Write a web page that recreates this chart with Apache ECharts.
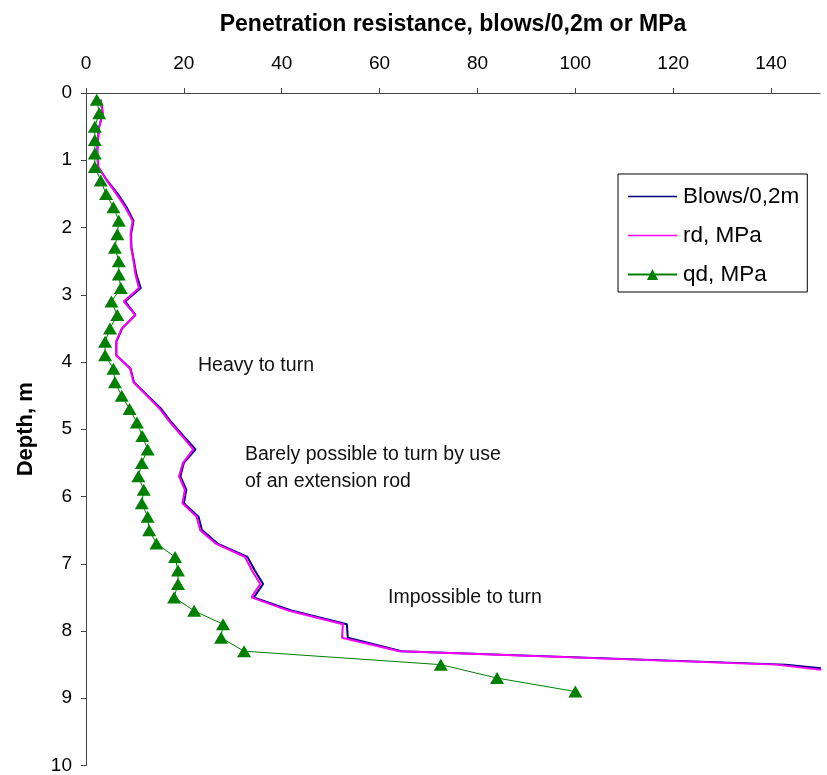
<!DOCTYPE html>
<html><head><meta charset="utf-8">
<script src="https://cdn.jsdelivr.net/npm/echarts@6/dist/echarts.min.js"></script>
<style>html,body{margin:0;padding:0;background:#fff}#c{width:827px;height:775px}</style>
</head><body><div id="c"></div>
<script>
var depths = [0.1,0.3,0.5,0.7,0.9,1.1,1.3,1.5,1.7,1.9,2.1,2.3,2.5,2.7,2.9,3.1,3.3,3.5,3.7,3.9,4.1,4.3,4.5,4.7,4.9,5.1,5.3,5.5,5.7,5.9,6.1,6.3,6.5,6.7,6.9,7.1,7.3,7.5,7.7,7.9,8.1,8.3,8.5,8.7,8.9];
var blows = [3.0,3.4,2.7,2.4,2.3,2.5,4.3,6.5,8.3,9.7,9.2,9.3,9.8,10.3,11.2,8.0,10.1,7.4,6.2,6.2,9.1,9.8,12.6,15.4,17.5,19.9,22.4,20.0,19.3,20.5,20.0,23.0,23.7,26.9,33.0,34.5,36.2,34.3,42.2,53.3,53.5,64.5,143,170];
var rd = [3.0,3.4,2.7,2.4,2.3,2.5,4.2,6.2,8.0,9.5,9.1,9.2,9.7,10.1,10.8,7.7,10.0,7.3,6.1,6.1,9.0,9.7,12.4,15.1,17.2,19.6,21.9,19.8,19.0,20.2,19.7,22.6,23.3,26.5,32.5,33.9,35.6,33.8,41.5,52.5,52.3,64.0,141,165];
var qd = [2.2,2.7,1.8,1.8,1.8,1.8,3.0,4.1,5.6,6.7,6.4,5.9,6.7,6.7,7.1,5.2,6.4,4.9,3.9,3.9,5.6,5.9,7.3,8.9,10.4,11.5,12.6,11.4,10.7,11.8,11.4,12.6,12.9,14.4,18.2,18.8,18.8,18.0,22.1,28.0,27.6,32.3,72.5,84,100];
var xTicks = [0,20,40,60,80,100,120,140];
var yTicks = [0,1,2,3,4,5,6,7,8,9,10];

function pairs(vals){ return vals.map(function(v,i){ return [v, depths[i]]; }); }

var font = '"Liberation Sans", Arial, sans-serif';
var lineIcon = 'path://M0,0L0.01,0L0,0.01Z M0,6.3L49,6.3L49,7.7L0,7.7Z M48.99,14L49,14L49,13.99Z';
var chart = echarts.init(document.getElementById('c'));
chart.setOption({
  animation: false,
  backgroundColor: '#fff',
  grid: {left: 86, top: 93, width: 734, height: 676, containLabel: false},
  xAxis: {
    type: 'value', position: 'top', min: 0, max: 150, interval: 20,
    name: 'Penetration resistance, blows/0,2m or MPa', nameLocation: 'middle', nameGap: 57,
    nameTextStyle: {fontFamily: font, fontWeight: 'bold', fontSize: 23, color: '#000'},
    axisLine: {show: true, lineStyle: {color: '#444', width: 1}},
    axisTick: {show: true, inside: false, length: 5, lineStyle: {color: '#444'}},
    axisLabel: {fontFamily: font, fontSize: 19, color: '#000', margin: 20, showMaxLabel: false,
      formatter: function(v){ return xTicks.indexOf(v) >= 0 ? String(v) : ''; }},
    splitLine: {show: false}
  },
  yAxis: {
    type: 'value', inverse: true, min: 0, max: 10, interval: 1,
    name: 'Depth, m', nameLocation: 'middle', nameGap: 49, nameRotate: 90,
    nameTextStyle: {fontFamily: font, fontWeight: 'bold', fontSize: 22, color: '#000'},
    axisLine: {show: true, lineStyle: {color: '#444', width: 1}},
    axisTick: {show: true, length: 5, lineStyle: {color: '#444'}},
    axisLabel: {fontFamily: font, fontSize: 19, color: '#000', margin: 14,
      formatter: function(v){ return yTicks.indexOf(v) >= 0 ? String(v) : ''; }},
    splitLine: {show: false}
  },
  legend: {
    orient: 'vertical', left: 618, top: 174,
    padding: [11, 8, 6, 9], itemGap: 16, itemWidth: 49, itemHeight: 14,
    backgroundColor: '#fff', borderColor: '#000', borderWidth: 1,
    textStyle: {fontFamily: font, fontSize: 22.5, color: '#000', padding: [0, 0, 0, 1]},
    data: [
      {name: 'Blows/0,2m', icon: lineIcon},
      {name: 'rd, MPa', icon: lineIcon},
      {name: 'qd, MPa'}
    ]
  },
  series: [
    {name: 'Blows/0,2m', type: 'line', data: pairs(blows), symbol: 'none', clip: true,
      lineStyle: {color: '#000080', width: 2}, itemStyle: {color: '#000080'}, z: 2},
    {name: 'rd, MPa', type: 'line', data: pairs(rd), symbol: 'none', clip: true,
      lineStyle: {color: '#ff00ff', width: 2}, itemStyle: {color: '#ff00ff'}, z: 3},
    {name: 'qd, MPa', type: 'line', data: pairs(qd), symbol: 'triangle', symbolSize: [14, 12], clip: true,
      lineStyle: {color: '#008000', width: 1}, itemStyle: {color: '#008000'}, z: 4}
  ],
  graphic: [
    {type: 'text', x: 198, y: 366, style: {text: 'Heavy to turn', font: '19.5px ' + font, fill: '#111', verticalAlign: 'middle'}},
    {type: 'text', x: 245, y: 455, style: {text: 'Barely possible to turn by use', font: '19.5px ' + font, fill: '#111', verticalAlign: 'middle'}},
    {type: 'text', x: 245, y: 481.5, style: {text: 'of an extension rod', font: '19.5px ' + font, fill: '#111', verticalAlign: 'middle'}},
    {type: 'text', x: 388, y: 598, style: {text: 'Impossible to turn', font: '19.5px ' + font, fill: '#111', verticalAlign: 'middle'}}
  ]
});
</script></body></html>
